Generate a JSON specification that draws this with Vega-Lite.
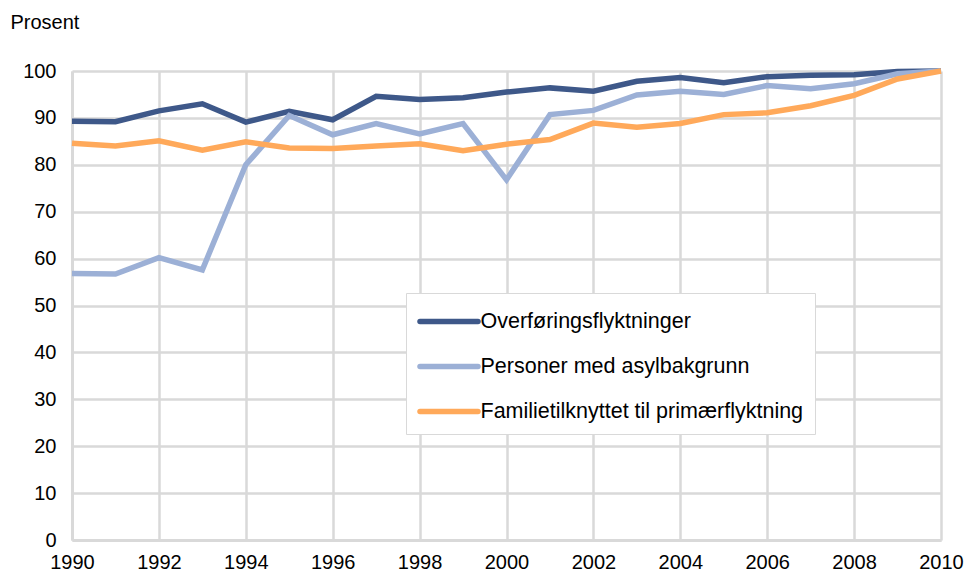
{
  "$schema": "https://vega.github.io/schema/vega-lite/v6.json",
  "width": 869,
  "height": 469,
  "autosize": {"type": "none"},
  "padding": {"left": 72, "top": 71, "right": 26, "bottom": 32},
  "background": "white",
  "config": {
    "view": {"stroke": null},
    "font": "Liberation Sans",
    "axis": {
      "gridColor": "#d9d9d9",
      "gridWidth": 2.5,
      "domainColor": "#d9d9d9",
      "domainWidth": 3,
      "ticks": false,
      "labelFont": "Liberation Sans",
      "labelFontSize": 20,
      "labelColor": "#000000"
    }
  },
  "data": {
    "values": [
      {"year": 1990, "series": "Overføringsflyktninger", "value": 89.3},
      {"year": 1991, "series": "Overføringsflyktninger", "value": 89.2},
      {"year": 1992, "series": "Overføringsflyktninger", "value": 91.5},
      {"year": 1993, "series": "Overføringsflyktninger", "value": 93.0},
      {"year": 1994, "series": "Overføringsflyktninger", "value": 89.1},
      {"year": 1995, "series": "Overføringsflyktninger", "value": 91.4},
      {"year": 1996, "series": "Overføringsflyktninger", "value": 89.6},
      {"year": 1997, "series": "Overføringsflyktninger", "value": 94.6},
      {"year": 1998, "series": "Overføringsflyktninger", "value": 93.9},
      {"year": 1999, "series": "Overføringsflyktninger", "value": 94.3},
      {"year": 2000, "series": "Overføringsflyktninger", "value": 95.5},
      {"year": 2001, "series": "Overføringsflyktninger", "value": 96.4},
      {"year": 2002, "series": "Overføringsflyktninger", "value": 95.7},
      {"year": 2003, "series": "Overføringsflyktninger", "value": 97.8},
      {"year": 2004, "series": "Overføringsflyktninger", "value": 98.6},
      {"year": 2005, "series": "Overføringsflyktninger", "value": 97.5},
      {"year": 2006, "series": "Overføringsflyktninger", "value": 98.8},
      {"year": 2007, "series": "Overføringsflyktninger", "value": 99.1},
      {"year": 2008, "series": "Overføringsflyktninger", "value": 99.2},
      {"year": 2009, "series": "Overføringsflyktninger", "value": 99.9},
      {"year": 2010, "series": "Overføringsflyktninger", "value": 100},
      {"year": 1990, "series": "Personer med asylbakgrunn", "value": 56.8},
      {"year": 1991, "series": "Personer med asylbakgrunn", "value": 56.7},
      {"year": 1992, "series": "Personer med asylbakgrunn", "value": 60.2},
      {"year": 1993, "series": "Personer med asylbakgrunn", "value": 57.6},
      {"year": 1994, "series": "Personer med asylbakgrunn", "value": 80.0},
      {"year": 1995, "series": "Personer med asylbakgrunn", "value": 90.5},
      {"year": 1996, "series": "Personer med asylbakgrunn", "value": 86.4},
      {"year": 1997, "series": "Personer med asylbakgrunn", "value": 88.8},
      {"year": 1998, "series": "Personer med asylbakgrunn", "value": 86.6},
      {"year": 1999, "series": "Personer med asylbakgrunn", "value": 88.8},
      {"year": 2000, "series": "Personer med asylbakgrunn", "value": 76.8},
      {"year": 2001, "series": "Personer med asylbakgrunn", "value": 90.7},
      {"year": 2002, "series": "Personer med asylbakgrunn", "value": 91.6},
      {"year": 2003, "series": "Personer med asylbakgrunn", "value": 94.9},
      {"year": 2004, "series": "Personer med asylbakgrunn", "value": 95.7},
      {"year": 2005, "series": "Personer med asylbakgrunn", "value": 95.0},
      {"year": 2006, "series": "Personer med asylbakgrunn", "value": 96.9},
      {"year": 2007, "series": "Personer med asylbakgrunn", "value": 96.2},
      {"year": 2008, "series": "Personer med asylbakgrunn", "value": 97.3},
      {"year": 2009, "series": "Personer med asylbakgrunn", "value": 99.4},
      {"year": 2010, "series": "Personer med asylbakgrunn", "value": 100},
      {"year": 1990, "series": "Familietilknyttet til primærflyktning", "value": 84.6},
      {"year": 1991, "series": "Familietilknyttet til primærflyktning", "value": 84.0},
      {"year": 1992, "series": "Familietilknyttet til primærflyktning", "value": 85.1},
      {"year": 1993, "series": "Familietilknyttet til primærflyktning", "value": 83.1},
      {"year": 1994, "series": "Familietilknyttet til primærflyktning", "value": 84.9},
      {"year": 1995, "series": "Familietilknyttet til primærflyktning", "value": 83.6},
      {"year": 1996, "series": "Familietilknyttet til primærflyktning", "value": 83.5},
      {"year": 1997, "series": "Familietilknyttet til primærflyktning", "value": 84.0},
      {"year": 1998, "series": "Familietilknyttet til primærflyktning", "value": 84.5},
      {"year": 1999, "series": "Familietilknyttet til primærflyktning", "value": 83.0},
      {"year": 2000, "series": "Familietilknyttet til primærflyktning", "value": 84.4},
      {"year": 2001, "series": "Familietilknyttet til primærflyktning", "value": 85.4},
      {"year": 2002, "series": "Familietilknyttet til primærflyktning", "value": 88.9},
      {"year": 2003, "series": "Familietilknyttet til primærflyktning", "value": 88.0},
      {"year": 2004, "series": "Familietilknyttet til primærflyktning", "value": 88.8},
      {"year": 2005, "series": "Familietilknyttet til primærflyktning", "value": 90.7},
      {"year": 2006, "series": "Familietilknyttet til primærflyktning", "value": 91.1},
      {"year": 2007, "series": "Familietilknyttet til primærflyktning", "value": 92.6},
      {"year": 2008, "series": "Familietilknyttet til primærflyktning", "value": 94.8},
      {"year": 2009, "series": "Familietilknyttet til primærflyktning", "value": 98.3},
      {"year": 2010, "series": "Familietilknyttet til primærflyktning", "value": 100}
    ]
  },
  "encoding": {
    "x": {
      "field": "year",
      "type": "quantitative",
      "scale": {"domain": [1990, 2010], "nice": false, "zero": false},
      "axis": {
        "values": [1990, 1992, 1994, 1996, 1998, 2000, 2002, 2004, 2006, 2008, 2010],
        "format": "d",
        "title": null,
        "labelPadding": 12,
        "labelFlush": false,
        "labelOverlap": false
      }
    },
    "y": {
      "field": "value",
      "type": "quantitative",
      "scale": {"domain": [0, 100], "nice": false},
      "axis": {
        "values": [0, 10, 20, 30, 40, 50, 60, 70, 80, 90, 100],
        "title": "Prosent",
        "titleAngle": 0,
        "titleAlign": "left",
        "titleBaseline": "middle",
        "titleX": -62,
        "titleY": -49,
        "titleFont": "Liberation Sans",
        "titleFontSize": 20,
        "titleFontWeight": "normal",
        "titleColor": "#000000",
        "labelPadding": 16
      }
    },
    "color": {
      "field": "series",
      "type": "nominal",
      "scale": {
        "domain": ["Overføringsflyktninger", "Personer med asylbakgrunn", "Familietilknyttet til primærflyktning"],
        "range": ["#3e5889", "#9cb0d6", "#ffa95a"]
      },
      "legend": {
        "title": null,
        "orient": "none",
        "legendX": 334,
        "legendY": 222,
        "fillColor": "white",
        "strokeColor": "#d9d9d9",
        "padding": 11,
        "symbolType": "M-2,0H2",
        "symbolSize": 841,
        "symbolStrokeWidth": 5.5,
        "symbolOffset": 14.5,
        "labelFont": "Liberation Sans",
        "labelFontSize": 21.5,
        "labelColor": "#000000",
        "labelOffset": 14,
        "labelLimit": 500,
        "rowPadding": 16,
        "encode": {
          "symbols": {"update": {"strokeCap": {"value": "round"}}}
        }
      }
    }
  },
  "layer": [
    {
      "transform": [{"filter": "datum.series === 'Overføringsflyktninger'"}],
      "mark": {"type": "line", "strokeWidth": 5.5}
    },
    {
      "transform": [{"filter": "datum.series === 'Personer med asylbakgrunn'"}],
      "mark": {"type": "line", "strokeWidth": 5.5}
    },
    {
      "transform": [{"filter": "datum.series === 'Familietilknyttet til primærflyktning'"}],
      "mark": {"type": "line", "strokeWidth": 5.5}
    }
  ]
}
